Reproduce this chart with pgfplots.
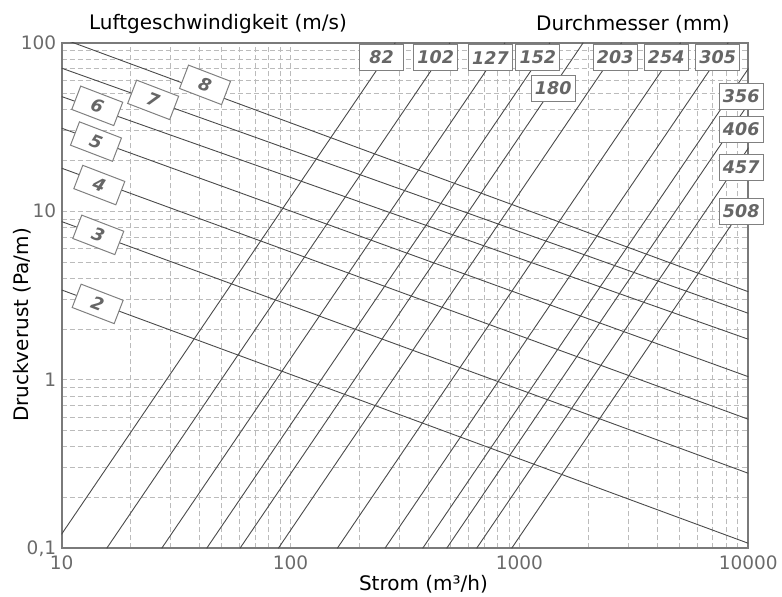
\documentclass[border=0pt]{standalone}
\usepackage{fontspec}
\setmainfont{DejaVu Sans}
\usepackage{pgfplots}
\pgfplotsset{compat=1.18}
\definecolor{gridc}{HTML}{BBBBBB}
\definecolor{axc}{HTML}{7A7A7A}
\definecolor{linec}{HTML}{4A4A4A}
\definecolor{labc}{HTML}{666666}
\definecolor{boxc}{HTML}{808080}
\definecolor{tickc}{HTML}{6A6A6A}
\begin{document}
\begin{tikzpicture}[x=1pt,y=1pt]
\useasboundingbox (-61.7,-48.7) rectangle (720.3,548.3);
\begin{axis}[
  scale only axis, width=686.6pt, height=505.6pt,
  at={(0,0)}, anchor=south west,
  xmode=log, ymode=log,
  xmin=10, xmax=10000, ymin=0.1, ymax=100,
  xtick={10,100,1000,10000}, xticklabels={10,100,1000,10000},
  ytick={0.1,1,10,100}, yticklabels={{0,1},1,10,100},
  minor xtick={20,30,40,50,60,70,80,90,200,300,400,500,600,700,800,900,2000,3000,4000,5000,6000,7000,8000,9000},
  minor ytick={0.2,0.3,0.4,0.5,0.6,0.7,0.8,0.9,2,3,4,5,6,7,8,9,20,30,40,50,60,70,80,90},
  grid=both,
  major grid style={draw=gridc, dash pattern=on 5pt off 3pt, line width=0.8pt},
  minor grid style={draw=gridc, dash pattern=on 5pt off 3pt, line width=0.8pt},
  major tick length=0pt, minor tick length=0pt,
  axis line style={draw=axc, line width=2pt},
  ticklabel style={font=\fontsize{18.5}{21}\selectfont, text=tickc},
  xticklabel style={yshift=-4pt},
  yticklabel style={xshift=-2pt},
]
% velocity lines (descending)
\addplot[linec, line width=0.9pt] coordinates {(10,106.0) (10000,3.33)};
\addplot[linec, line width=0.9pt] coordinates {(10,70.6) (10000,2.48)};
\addplot[linec, line width=0.9pt] coordinates {(10,47.9) (10000,1.74)};
\addplot[linec, line width=0.9pt] coordinates {(10,31.1) (10000,1.043)};
\addplot[linec, line width=0.9pt] coordinates {(10,18.0) (10000,0.583)};
\addplot[linec, line width=0.9pt] coordinates {(10,8.68) (10000,0.2787)};
\addplot[linec, line width=0.9pt] coordinates {(10,3.41) (10000,0.1071)};
% diameter lines (ascending)
\addplot[linec, line width=0.9pt] coordinates {(9.07,0.1) (286.8,100)};
\addplot[linec, line width=0.9pt] coordinates {(15.73,0.1) (497.4,100)};
\addplot[linec, line width=0.9pt] coordinates {(27.35,0.1) (864.9,100)};
\addplot[linec, line width=0.9pt] coordinates {(43.0,0.1) (1359.8,100)};
\addplot[linec, line width=0.9pt] coordinates {(60.1,0.1) (1900.5,100)};
\addplot[linec, line width=0.9pt] coordinates {(88.4,0.1) (2795.5,100)};
\addplot[linec, line width=0.9pt] coordinates {(160.0,0.1) (5059.7,100)};
\addplot[linec, line width=0.9pt] coordinates {(258.4,0.1) (8171,100)};
\addplot[linec, line width=0.9pt] coordinates {(377.7,0.1) (11944,100)};
\addplot[linec, line width=0.9pt] coordinates {(480.8,0.1) (15204,100)};
\addplot[linec, line width=0.9pt] coordinates {(650.1,0.1) (20558,100)};
\addplot[linec, line width=0.9pt] coordinates {(924.6,0.1) (29239,100)};
% label anchors
\coordinate (v8) at (axis cs:42.3,56.2);
\coordinate (v7) at (axis cs:25.1,45.8);
\coordinate (v6) at (axis cs:14.3,42.2);
\coordinate (v5) at (axis cs:14.12,25.9);
\coordinate (v4) at (axis cs:14.6,14.3);
\coordinate (v3) at (axis cs:14.45,7.24);
\coordinate (v2) at (axis cs:14.36,2.82);
\coordinate (d82) at (axis cs:250,81.6);
\coordinate (d102) at (axis cs:430.9,81.6);
\coordinate (d127) at (axis cs:746.9,81.6);
\coordinate (d152) at (axis cs:1204,81.6);
\coordinate (d180) at (axis cs:1405,53.7);
\coordinate (d203) at (axis cs:2621,81.6);
\coordinate (d254) at (axis cs:4379,81.6);
\coordinate (d305) at (axis cs:7350,81.6);
\coordinate (d356) at (axis cs:9311,48.1);
\coordinate (d406) at (axis cs:9311,30.5);
\coordinate (d457) at (axis cs:9311,18.27);
\coordinate (d508) at (axis cs:9311,10.01);
\end{axis}
\tikzset{lab/.style={draw=boxc, fill=white, line width=1pt, minimum width=44pt, minimum height=26pt, inner sep=0pt, text=labc, font=\fontsize{17.5}{19}\selectfont\bfseries\itshape}}
\tikzset{vlab/.style={lab, minimum width=45pt, minimum height=25pt, rotate=-21}}
\node[vlab] at (v8) {8};
\node[vlab] at (v7) {7};
\node[vlab] at (v6) {6};
\node[vlab] at (v5) {5};
\node[vlab] at (v4) {4};
\node[vlab] at (v3) {3};
\node[vlab] at (v2) {2};
\node[lab] at (d82) {82};
\node[lab] at (d102) {102};
\node[lab] at (d127) {127};
\node[lab] at (d152) {152};
\node[lab] at (d180) {180};
\node[lab] at (d203) {203};
\node[lab] at (d254) {254};
\node[lab] at (d305) {305};
\node[lab] at (d356) {356};
\node[lab] at (d406) {406};
\node[lab] at (d457) {457};
\node[lab] at (d508) {508};
% titles
\node[anchor=base, font=\fontsize{20}{24}\selectfont] at (156.3,518.3) {Luftgeschwindigkeit (m/s)};
\node[anchor=base, font=\fontsize{20}{24}\selectfont] at (571.3,517.3) {Durchmesser (mm)};
\node[anchor=base, font=\fontsize{20}{24}\selectfont] at (361.8,-42.7) {Strom (m³/h)};
\node[anchor=base, rotate=90, font=\fontsize{20}{24}\selectfont] at (-33.2,223.3) {Druckverust (Pa/m)};
\end{tikzpicture}
\end{document}
